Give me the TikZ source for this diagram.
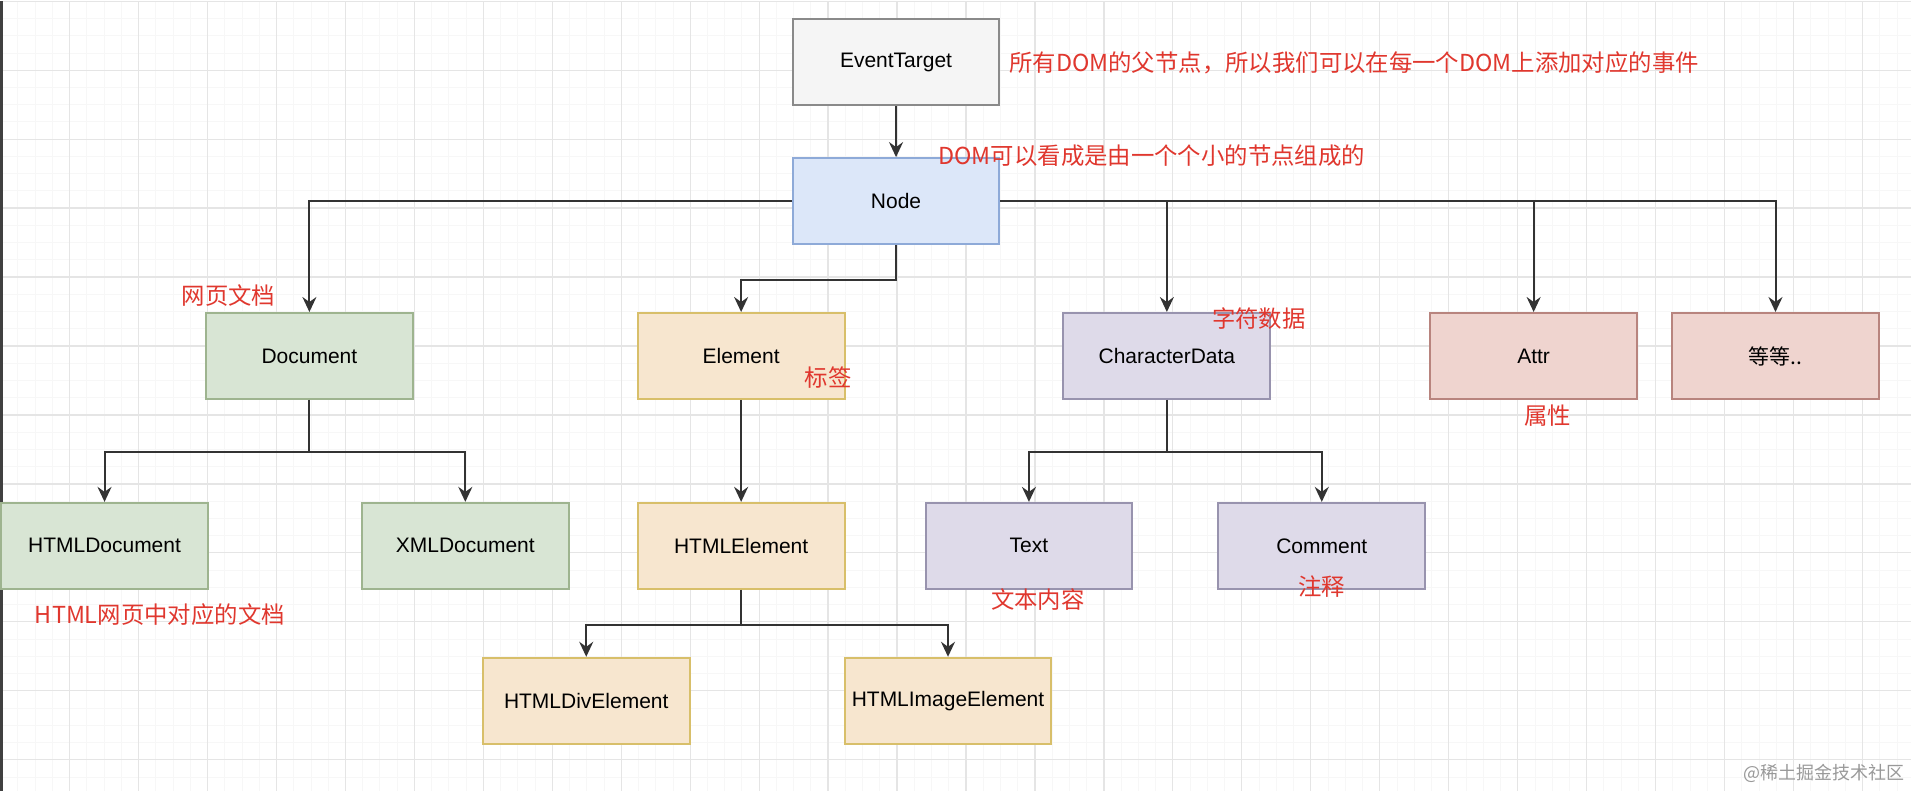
\documentclass[tikz,border=0pt]{standalone}
\usepackage{fontspec}
\setmainfont{Liberation Sans}
\newfontfamily\cjk{Noto Sans CJK SC}
\usetikzlibrary{shapes,positioning,calc,arrows,arrows.meta}

\definecolor{lineclr}{HTML}{333333}
\definecolor{noteclr}{HTML}{E0372E}
\definecolor{evfill}{HTML}{F5F5F5}
\definecolor{evline}{HTML}{8A8A8A}
\definecolor{nodefill}{HTML}{DCE7F9}
\definecolor{nodeline}{HTML}{8EAAD8}
\definecolor{docfill}{HTML}{D8E5D4}
\definecolor{docline}{HTML}{9EB48F}
\definecolor{elemfill}{HTML}{F7E6CF}
\definecolor{elemline}{HTML}{D8BF6A}
\definecolor{chrfill}{HTML}{DEDAE9}
\definecolor{chrline}{HTML}{9893AE}
\definecolor{attrfill}{HTML}{EFD4CF}
\definecolor{attrline}{HTML}{B8847E}

\tikzset{
    box/.style={draw, line width=1pt, minimum width=103.5pt, minimum height=43pt,
        inner sep=0pt, font=\fontsize{10.5}{12}\selectfont},
    greybox/.style={box, fill=evfill, draw=evline},
    bluebox/.style={box, fill=nodefill, draw=nodeline},
    greenbox/.style={box, fill=docfill, draw=docline},
    orangebox/.style={box, fill=elemfill, draw=elemline},
    purplebox/.style={box, fill=chrfill, draw=chrline},
    redbox/.style={box, fill=attrfill, draw=attrline},
    link/.style={draw=lineclr, line width=1pt,
        -{Stealth[length=7.5pt, width=7pt, inset=2.5pt]}},
    note/.style={text=noteclr, inner sep=0pt, font=\cjk\fontsize{11.7}{13}\selectfont},
    wmark/.style={text=black!40, inner sep=0pt, font=\cjk\fontsize{9}{11}\selectfont},
}

\begin{document}
\begin{tikzpicture}[x=0.5pt, y=-0.5pt]
    % canvas with the drawing grid
    \fill[white] (0,0) rectangle (1912,790);
    \draw[black!3, line width=0.4pt, step=8.625pt] (0,0) grid (1912,790);
    \draw[black!10, line width=0.6pt, step=34.5pt] (0,0) grid (1912,790);
    \draw[black!75, line width=1.2pt] (1,0) -- (1,790);
    \useasboundingbox (0,0) rectangle (1912,790);

    \foreach \id/\x/\y/\sty/\txt in {
        event/896/61/greybox/EventTarget,
        node/896/200/bluebox/Node,
        doc/309/355/greenbox/Document,
        elem/741/355/orangebox/Element,
        chr/1167/355/purplebox/CharacterData,
        attr/1534/355/redbox/Attr,
        etc/1776/355/redbox/{\cjk 等等..},
        htmldoc/104/545/greenbox/HTMLDocument,
        xmldoc/465/545/greenbox/XMLDocument,
        htmlelem/741/545/orangebox/HTMLElement,
        text/1029/545/purplebox/Text,
        comment/1322/545/purplebox/Comment,
        div/586/700/orangebox/HTMLDivElement,
        image/948/700/orangebox/HTMLImageElement}
    {
        \node[\sty] (box_\id) at (\x,\y) {\txt};
    }

    % inheritance links
    \draw[link] (box_event) -- (box_node);
    \draw[link] (box_node.west) -| (box_doc.north);
    \draw[link] (box_node.south) -- ++(0,35) -| (box_elem.north);
    \foreach \to in {chr,attr,etc}
        \draw[link] (box_node.east) -| (box_\to.north);
    \foreach \to in {htmldoc,xmldoc}
        \draw[link] (box_doc.south) -- ++(0,52) -| (box_\to.north);
    \draw[link] (box_elem) -- (box_htmlelem);
    \foreach \to in {text,comment}
        \draw[link] (box_chr.south) -- ++(0,52) -| (box_\to.north);
    \foreach \to in {div,image}
        \draw[link] (box_htmlelem.south) -- ++(0,35) -| (box_\to.north);

    % notes
    \node[note, anchor=west] (note_event) at (1009,62) {所有DOM的父节点，所以我们可以在每一个DOM上添加对应的事件};
    \node[note, anchor=west] (note_node) at (938,155) {DOM可以看成是由一个个小的节点组成的};
    \node[note] (note_doc) at (228,295) {网页文档};
    \node[note] (note_elem) at (828,377) {标签};
    \node[note] (note_chr) at (1259,318) {字符数据};
    \node[note] (note_attr) at (1548,415) {属性};
    \node[note, anchor=west] (note_htmldoc) at (34,614) {HTML网页中对应的文档};
    \node[note] (note_text) at (1038,599) {文本内容};
    \node[note] (note_comment) at (1322,586) {注释};
    \node[wmark, anchor=east] (note_wm) at (1905,773) {@稀土掘金技术社区};
\end{tikzpicture}
\end{document}
